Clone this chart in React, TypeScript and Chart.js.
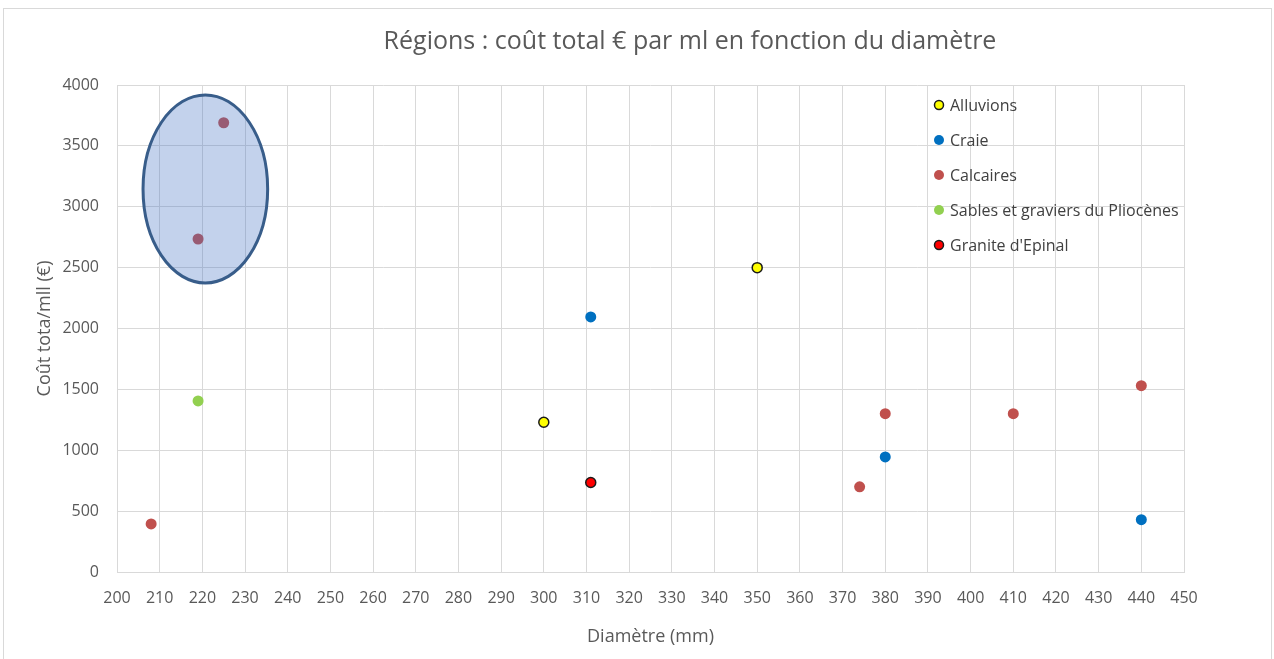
import React, { useEffect, useRef } from "react";
import { Chart, registerables } from "chart.js";

Chart.register(...registerables);

// ---- data ----
const seriesNames = [
  "Alluvions",
  "Craie",
  "Calcaires",
  "Sables et graviers du Pliocènes",
  "Granite d'Epinal",
];
const alluvionsX = [300, 350];
const alluvionsY = [1230, 2500];
const craieX = [311, 380, 440];
const craieY = [2095, 945, 430];
const calcairesX = [208, 219, 225, 374, 380, 410, 440];
const calcairesY = [395, 2735, 3690, 700, 1300, 1300, 1530];
const sablesX = [219];
const sablesY = [1405];
const graniteX = [311];
const graniteY = [735];

// highlighted region (ellipse), in data units
const ellipseCenter = [220.7, 3146];
const ellipseRadii = [14.6, 772];

const titleText = "Régions : coût total € par ml en fonction du diamètre";
const xTitle = "Diamètre (mm)";
const yTitle = "Coût tota/mll (€)";

const FONT = "'Open Sans', sans-serif";

const pts = (xs: number[], ys: number[]) => xs.map((x, i) => ({ x, y: ys[i] }));

const styles = [
  { bg: "#FFFF00", border: "#1a1a1a", bw: 1.5, r: 5 },
  { bg: "#0070C0", border: "#0070C0", bw: 0, r: 5.5 },
  { bg: "#C0504D", border: "#C0504D", bw: 0, r: 5.5 },
  { bg: "#92D050", border: "#92D050", bw: 0, r: 5.5 },
  { bg: "#FF0000", border: "#1a1a1a", bw: 1.5, r: 5 },
];

export default function App() {
  const ref = useRef<HTMLCanvasElement | null>(null);
  useEffect(() => {
    if (!ref.current) return;
    const dataArrays = [
      pts(alluvionsX, alluvionsY),
      pts(craieX, craieY),
      pts(calcairesX, calcairesY),
      pts(sablesX, sablesY),
      pts(graniteX, graniteY),
    ];
    const ellipsePlugin = {
      id: "ellipse",
      afterDatasetsDraw(chart: any) {
        const { ctx, scales } = chart;
        const x = scales.x, y = scales.y;
        const cx = x.getPixelForValue(ellipseCenter[0]);
        const cy = y.getPixelForValue(ellipseCenter[1]);
        const rx = Math.abs(x.getPixelForValue(ellipseCenter[0] + ellipseRadii[0]) - cx);
        const ry = Math.abs(y.getPixelForValue(ellipseCenter[1] + ellipseRadii[1]) - cy);
        ctx.save();
        ctx.beginPath();
        ctx.ellipse(cx, cy, rx, ry, 0, 0, Math.PI * 2);
        ctx.fillStyle = "rgba(68,114,196,0.32)";
        ctx.fill();
        ctx.lineWidth = 3;
        ctx.strokeStyle = "#385D8A";
        ctx.stroke();
        ctx.restore();
      },
    };
    const decorPlugin = {
      id: "decor",
      afterDraw(chart: any) {
        const { ctx } = chart;
        ctx.save();
        ctx.fillStyle = "#595959";
        ctx.font = `25px ${FONT}`;
        ctx.textAlign = "center";
        ctx.textBaseline = "middle";
        ctx.fillText(titleText, 690, 42);
        // legend
        ctx.font = `16px ${FONT}`;
        ctx.textAlign = "left";
        seriesNames.forEach((name, i) => {
          const yy = 105 + i * 35;
          const s = styles[i];
          ctx.beginPath();
          ctx.arc(939, yy, s.r - 0.5, 0, Math.PI * 2);
          ctx.fillStyle = s.bg;
          ctx.fill();
          if (s.bw > 0) {
            ctx.lineWidth = s.bw;
            ctx.strokeStyle = s.border;
            ctx.stroke();
          }
          ctx.fillStyle = "#404040";
          ctx.fillText(name, 950, yy + 1);
        });
        ctx.restore();
      },
    };
    const chart = new Chart(ref.current, {
      type: "scatter",
      data: {
        datasets: seriesNames.map((name, i) => ({
          label: name,
          data: dataArrays[i],
          backgroundColor: styles[i].bg,
          borderColor: styles[i].border,
          borderWidth: styles[i].bw,
          pointRadius: styles[i].r,
          pointHoverRadius: styles[i].r,
        })),
      },
      options: {
        responsive: false,
        animation: false,
        events: [],
        layout: { padding: { left: 30, right: 90, top: 85, bottom: 7 } },
        plugins: {
          legend: { display: false },
          title: { display: false },
          tooltip: { enabled: false },
        },
        scales: {
          x: {
            type: "linear",
            min: 200,
            max: 450,
            ticks: { stepSize: 10, color: "#595959", font: { family: FONT, size: 16 }, padding: 17 },
            grid: { color: "#d9d9d9", drawTicks: false },
            border: { color: "#d9d9d9" },
            title: { display: true, text: xTitle, color: "#595959", font: { family: FONT, size: 18 } },
            afterFit(scale: any) {
              scale.height = 80;
            },
          },
          y: {
            min: 0,
            max: 4000,
            ticks: {
              stepSize: 500,
              color: "#595959",
              font: { family: FONT, size: 16 },
              padding: 18,
              callback: (v: any) => String(v),
            },
            grid: { color: "#d9d9d9", drawTicks: false },
            border: { display: false },
            title: { display: true, text: yTitle, color: "#595959", font: { family: FONT, size: 18 } },
            afterFit(scale: any) {
              scale.width = 87;
            },
          },
        },
      },
      plugins: [ellipsePlugin, decorPlugin],
    });
    return () => chart.destroy();
  }, []);
  return (
    <div style={{ position: "fixed", left: 0, top: 0, width: 1274, height: 659, background: "#fff" }}>
      <canvas ref={ref} width={1274} height={659} style={{ display: "block" }} />
      <div
        style={{
          position: "absolute",
          left: 3,
          top: 8,
          width: 1267,
          height: 700,
          border: "1px solid #d9d9d9",
          pointerEvents: "none",
        }}
      />
    </div>
  );
}
